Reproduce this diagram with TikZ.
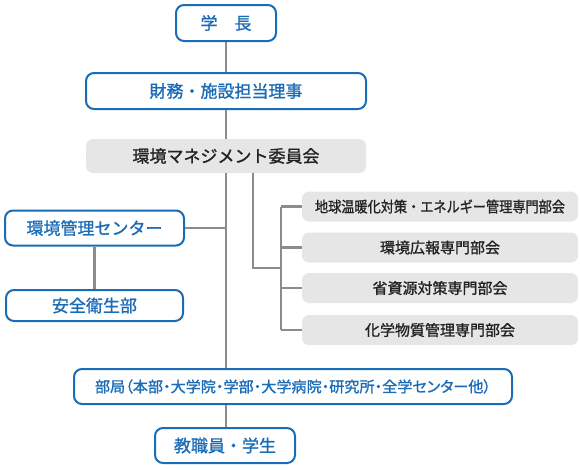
\documentclass[tikz,border=0pt]{standalone}
\usepackage{fontspec}
\usepackage{graphicx}
\setmainfont{Noto Sans CJK JP}[BoldFont=Noto Sans CJK JP, BoldFeatures={FakeBold=1.2}]
\newfontfamily\paltf{Noto Sans CJK JP}[RawFeature=+palt, BoldFont=Noto Sans CJK JP, BoldFeatures={FakeBold=1.2, RawFeature=+palt}]
\definecolor{bluec}{HTML}{1A6CB6}
\definecolor{grayc}{HTML}{E6E6E6}
\definecolor{linec}{HTML}{8C8C8C}
\definecolor{textc}{HTML}{222222}
\newdimen\fitlen
\newcommand\fitto[2]{\settowidth\fitlen{#2}\scalebox{\fpeval{#1/\fitlen}}[1]{#2}}
\tikzset{
  bluebox/.style={draw=bluec, line width=2pt, rounded corners=8pt, fill=white, text=bluec, inner sep=0pt},
  graybox/.style={fill=grayc, rounded corners=7pt, text=textc, inner sep=0pt},
  conn/.style={draw=linec, line width=2.5pt},
  fa/.style={font=\fontsize{17}{20}\selectfont\bfseries},
  fb/.style={font=\fontsize{15}{18}\selectfont\bfseries},
}
\begin{document}
\begin{tikzpicture}[x=1pt, y=-1pt]
\useasboundingbox (0,0) rectangle (580,469);
\node[bluebox, fa, minimum width=100pt, minimum height=36pt] (xz) at (226,23) {学　長};
\node[bluebox, fa, minimum width=280pt, minimum height=36pt] (zaimu) at (226,91) {財務・施設担当理事};
\node[graybox, fa, minimum width=280pt, minimum height=34pt] (iin) at (226,156) {環境マネジメント委員会};
\node[bluebox, fa, minimum width=179pt, minimum height=35pt] (center) at (94.5,228) {環境管理センター};
\node[bluebox, fa, minimum width=177pt, minimum height=31pt] (anzen) at (94.5,305.5) {安全衛生部};
\node[graybox, fb, minimum width=276pt, minimum height=30pt] (s1) at (440,206.5) {\fitto{250pt}{地球温暖化対策・エネルギー管理専門部会}};
\node[graybox, fb, minimum width=276pt, minimum height=30pt] (s2) at (440,247.5) {環境広報専門部会};
\node[graybox, fb, minimum width=276pt, minimum height=30pt] (s3) at (440,288) {省資源対策専門部会};
\node[graybox, fb, minimum width=276pt, minimum height=30pt] (s4) at (440,330) {化学物質管理専門部会};
\node[bluebox, fb, minimum width=438pt, minimum height=35pt] (bk) at (293,386.5) {\paltf\bfseries\fitto{396pt}{部局（本部・大学院・学部・大学病院・研究所・全学センター他）}};
\node[bluebox, fa, minimum width=140pt, minimum height=35pt] (kyo) at (225,445.5) {教職員・学生};
\coordinate (br) at (281,268);
\coordinate (brtop) at (281,206.5);
\coordinate (brbot) at (281,330);
\draw[conn] (xz.south) -- (zaimu.north -| xz.south);
\draw[conn] (zaimu.south -| xz.south) -- (iin.north -| xz.south);
\draw[conn] (iin.south -| xz.south) -- (bk.north -| xz.south);
\draw[conn] (bk.south -| xz.south) -- (kyo.north -| xz.south);
\draw[conn] (center.east) -- (center.east -| xz.south);
\draw[conn] (center.south) -- (anzen.north);
\draw[conn] ([xshift=27pt]iin.south) |- (br);
\draw[conn] (brtop) -- (brbot);
\draw[conn] (brtop) -- (s1.west);
\draw[conn] (s2.west -| br) -- (s2.west);
\draw[conn] (s3.west -| br) -- (s3.west);
\draw[conn] (brbot) -- (s4.west);
\end{tikzpicture}
\end{document}
